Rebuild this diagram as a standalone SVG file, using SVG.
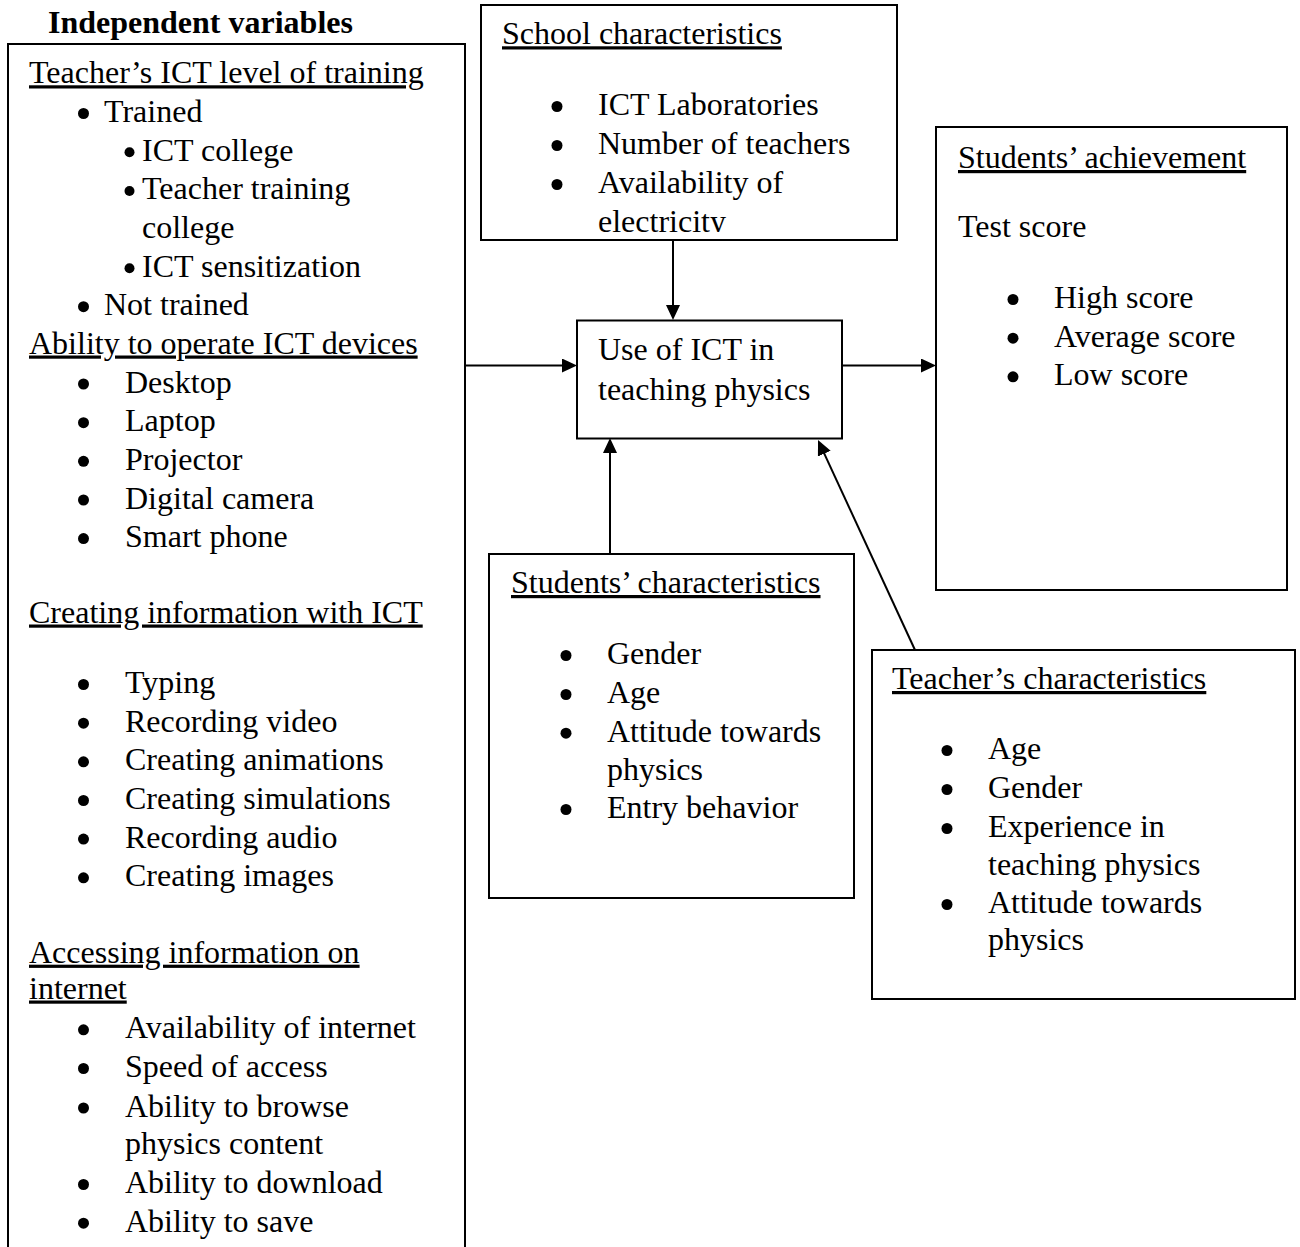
<svg xmlns="http://www.w3.org/2000/svg" width="1300" height="1247" viewBox="0 0 1300 1247">
<style>
text{font-family:"Liberation Serif","Times New Roman",serif;font-size:32px;fill:#000}
.h{text-decoration:underline}
.b{font-weight:bold}
.box{fill:#fff;stroke:#000;stroke-width:2}
.dot{fill:#000}
.conn{stroke:#000;stroke-width:2;fill:none;marker-end:url(#arr)}
</style>
<defs>
<marker id="arr" viewBox="0 0 15 14" refX="5" refY="7" markerWidth="15" markerHeight="14" markerUnits="userSpaceOnUse" orient="auto">
<path d="M0,0 L15,7 L0,14 Z" fill="#000"/>
</marker>
<clipPath id="schoolClip"><rect x="481" y="5" width="416" height="227"/></clipPath>
</defs>
<rect width="1300" height="1247" fill="#fff"/>

<g id="n-independent">
<text class="b" x="48" y="33">Independent variables</text>
<rect class="box" x="8" y="44" width="457" height="1230"/>
<text class="h" x="29" y="83.3">Teacher’s ICT level of training</text>
<circle class="dot" cx="83.5" cy="113.5" r="5.5"/><text x="104" y="122">Trained</text>
<circle class="dot" cx="129.5" cy="152.3" r="5"/><text x="142" y="160.6">ICT college</text>
<circle class="dot" cx="129.5" cy="191" r="5"/><text x="142" y="199.3">Teacher training</text>
<text x="142" y="237.9">college</text>
<circle class="dot" cx="129.5" cy="268.3" r="5"/><text x="142" y="276.6">ICT sensitization</text>
<circle class="dot" cx="83.5" cy="306.7" r="5.5"/><text x="104" y="315.2">Not trained</text>
<text class="h" x="29" y="353.5">Ability to operate ICT devices</text>
<circle class="dot" cx="83.5" cy="384" r="5.5"/><text x="125" y="392.5">Desktop</text>
<circle class="dot" cx="83.5" cy="422.7" r="5.5"/><text x="125" y="431.2">Laptop</text>
<circle class="dot" cx="83.5" cy="461.3" r="5.5"/><text x="125" y="469.8">Projector</text>
<circle class="dot" cx="83.5" cy="500" r="5.5"/><text x="125" y="508.5">Digital camera</text>
<circle class="dot" cx="83.5" cy="538.6" r="5.5"/><text x="125" y="547.1">Smart phone</text>
<text class="h" x="29" y="622.5">Creating information with ICT</text>
<circle class="dot" cx="83.5" cy="684.5" r="5.5"/><text x="125" y="693">Typing</text>
<circle class="dot" cx="83.5" cy="723.2" r="5.5"/><text x="125" y="731.7">Recording video</text>
<circle class="dot" cx="83.5" cy="761.8" r="5.5"/><text x="125" y="770.3">Creating animations</text>
<circle class="dot" cx="83.5" cy="800.5" r="5.5"/><text x="125" y="809">Creating simulations</text>
<circle class="dot" cx="83.5" cy="839.1" r="5.5"/><text x="125" y="847.6">Recording audio</text>
<circle class="dot" cx="83.5" cy="877.8" r="5.5"/><text x="125" y="886.3">Creating images</text>
<text class="h" x="29" y="962.7">Accessing information on</text>
<text class="h" x="29" y="998.5">internet</text>
<circle class="dot" cx="83.5" cy="1029.8" r="5.5"/><text x="125" y="1038.3">Availability of internet</text>
<circle class="dot" cx="83.5" cy="1068.5" r="5.5"/><text x="125" y="1077">Speed of access</text>
<circle class="dot" cx="83.5" cy="1108" r="5.5"/><text x="125" y="1116.5">Ability to browse</text>
<text x="125" y="1153.5">physics content</text>
<circle class="dot" cx="83.5" cy="1184.5" r="5.5"/><text x="125" y="1193">Ability to download</text>
<circle class="dot" cx="83.5" cy="1223.2" r="5.5"/><text x="125" y="1231.7">Ability to save</text>
</g>

<g id="n-school">
<rect class="box" x="481" y="5" width="416" height="235"/>
<g clip-path="url(#schoolClip)">
<text class="h" x="502" y="44.3">School characteristics</text>
<circle class="dot" cx="557" cy="106.5" r="5.5"/><text x="598" y="115">ICT Laboratories</text>
<circle class="dot" cx="557" cy="145.5" r="5.5"/><text x="598" y="154">Number of teachers</text>
<circle class="dot" cx="557" cy="184.5" r="5.5"/><text x="598" y="193">Availability of</text>
<text x="598" y="231.5">electricity</text>
</g>
</g>

<g id="n-use">
<rect class="box" x="577" y="320.5" width="265" height="118"/>
<text x="598" y="360">Use of ICT in</text>
<text x="598" y="400">teaching physics</text>
</g>

<g id="n-achievement">
<rect class="box" x="936" y="127" width="351" height="463"/>
<text class="h" x="958" y="168">Students’ achievement</text>
<text x="958" y="236.5">Test score</text>
<circle class="dot" cx="1013" cy="299.5" r="5.5"/><text x="1054" y="308">High score</text>
<circle class="dot" cx="1013" cy="338.2" r="5.5"/><text x="1054" y="346.7">Average score</text>
<circle class="dot" cx="1013" cy="376.8" r="5.5"/><text x="1054" y="385.3">Low score</text>
</g>

<g id="n-students">
<rect class="box" x="489" y="554" width="365" height="344"/>
<text class="h" x="511" y="593">Students’ characteristics</text>
<circle class="dot" cx="566" cy="655.5" r="5.5"/><text x="607" y="664">Gender</text>
<circle class="dot" cx="566" cy="694.5" r="5.5"/><text x="607" y="703">Age</text>
<circle class="dot" cx="566" cy="733.2" r="5.5"/><text x="607" y="741.7">Attitude towards</text>
<text x="607" y="779.5">physics</text>
<circle class="dot" cx="566" cy="809.5" r="5.5"/><text x="607" y="818">Entry behavior</text>
</g>

<g id="n-teacher">
<rect class="box" x="872" y="650" width="423" height="349"/>
<text class="h" x="892" y="689">Teacher’s characteristics</text>
<circle class="dot" cx="947" cy="750.5" r="5.5"/><text x="988" y="759">Age</text>
<circle class="dot" cx="947" cy="789.5" r="5.5"/><text x="988" y="798">Gender</text>
<circle class="dot" cx="947" cy="828.5" r="5.5"/><text x="988" y="837">Experience in</text>
<text x="988" y="875">teaching physics</text>
<circle class="dot" cx="947" cy="904.5" r="5.5"/><text x="988" y="913">Attitude towards</text>
<text x="988" y="950">physics</text>
</g>

<g id="connectors">
<path class="conn" d="M465,365.5 L567,365.5"/>
<path class="conn" d="M842,365.5 L926,365.5"/>
<path class="conn" d="M673,240 L673,310"/>
<path class="conn" d="M610,554 L610,448"/>
<path class="conn" d="M915,650 L822.2,449.1"/>
</g>
</svg>
